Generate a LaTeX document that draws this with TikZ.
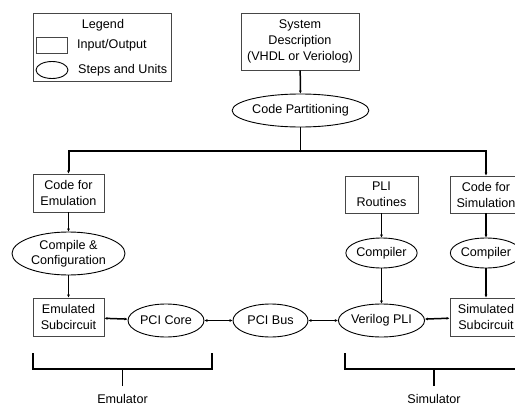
\documentclass[tikz,border=0pt]{standalone}
\usepackage{fontspec}
\setmainfont{Liberation Sans}
\usetikzlibrary{arrows.meta,shapes.geometric,calc}
\definecolor{box_grey}{RGB}{70, 70, 70}
\tikzstyle{io}=[rectangle,draw=box_grey,fill=white,line width=0.9pt,
  inner sep=0pt,align=center,font=\fontsize{12.6}{16}\selectfont]
\tikzstyle{un}=[ellipse,draw=black,fill=white,line width=0.9pt,
  inner sep=0pt,align=center,font=\fontsize{12.6}{15}\selectfont]
\tikzstyle{lbl}=[inner sep=0pt,font=\fontsize{12.6}{15}\selectfont]
\tikzstyle{flow}=[line width=1.5pt,-{Latex[length=3pt,width=3pt]}]
\tikzstyle{both}=[line width=1.5pt,{Latex[length=3pt,width=3pt]}-{Latex[length=3pt,width=3pt]}]
\tikzstyle{brace}=[line width=1.5pt]
\tikzstyle{none}=[]

\begin{document}
\begin{tikzpicture}[x=1pt, y=-1pt]
            \useasboundingbox (0, 0) rectangle (515, 407);
            % legend
            \node [style=io, minimum width=138pt, minimum height=68pt] (0) at (102, 47) {};
            \node [style=lbl] (1) at (103, 25) {Legend};
            \node [style=io, minimum width=31pt, minimum height=16pt] (2) at (51.5, 45) {};
            \node [style=lbl, anchor=west] (3) at (77, 45) {Input/Output};
            \node [style=un, minimum width=32pt, minimum height=17pt] (4) at (52, 70) {};
            \node [style=lbl, anchor=west] (5) at (78, 70) {Steps and Units};
            % top of the flow
            \node [style=io, minimum width=118pt, minimum height=57pt] (6) at (300, 41.5) {System\\Description\\(VHDL or Veriolog)};
            \node [style=un, minimum width=113pt, minimum height=33pt] (7) at (300.5, 110.5) {Code Partitioning};
            \coordinate (8) at (300.5, 151);
            % emulator side
            \node [style=io, minimum width=71pt, minimum height=38pt] (9) at (68.5, 193) {Code for\\Emulation};
            \node [style=un, minimum width=113pt, minimum height=43pt] (10) at (68.5, 253.5) {Compile \&\\Configuration};
            \node [style=io, minimum width=71pt, minimum height=38pt] (11) at (68.5, 317) {Emulated\\Subcircuit};
            \node [style=un, minimum width=76pt, minimum height=33pt] (12) at (166, 320.5) {PCI Core};
            \node [style=un, minimum width=75pt, minimum height=33pt] (13) at (270.5, 320.5) {PCI Bus};
            % simulator side
            \node [style=io, minimum width=73pt, minimum height=37pt] (14) at (381.5, 194.5) {PLI\\Routines};
            \node [style=io, minimum width=72pt, minimum height=37pt] (15) at (486, 194.5) {Code for\\Simulation};
            \node [style=un, minimum width=71pt, minimum height=30pt] (16) at (381.5, 253) {Compiler};
            \node [style=un, minimum width=71pt, minimum height=30pt] (17) at (486, 253) {Compiler};
            \node [style=un, minimum width=77pt, minimum height=33pt] (18) at (381.5, 320.5) {Verilog PLI};
            \node [style=io, minimum width=72pt, minimum height=38pt] (19) at (486, 317) {Simulated\\Subcircuit};
            % brackets
            \coordinate (20) at (33, 353);
            \coordinate (21) at (212, 353);
            \coordinate (22) at (122.5, 386);
            \node [style=lbl] (23) at (122.5, 399) {Emulator};
            \coordinate (24) at (345, 353);
            \coordinate (25) at (523, 353);
            \coordinate (26) at (434, 386);
            \node [style=lbl] (27) at (434, 399) {Simulator};

            \draw [style=flow] (6) to (7);
            \draw [line width=1.5pt] (7) to (8);
            \draw [style=flow, line width=2pt] (8) -| (9);
            \draw [style=flow, line width=2pt] (8) -| (15);
            \draw [style=flow] (9) to (10);
            \draw [style=flow] (10) to (11);
            \draw [style=flow] (14) to (16);
            \draw [style=flow] (16) to (18);
            \draw [style=flow] (15) to (17);
            \draw [style=flow] (17) to (19);
            \draw [style=both] (11) to (12);
            \draw [style=both] (12) to (13);
            \draw [style=both] (13) to (18);
            \draw [style=both] (18) to (19);
            \draw [style=brace] (20) -- ($(20)+(0,16)$) -- ($(21)+(0,16)$) -- (21);
            \draw [style=brace] (22) -- (22 |- 0,369);
            \draw [style=brace] (24) -- ($(24)+(0,16)$) -- ($(25)+(0,16)$) -- (25);
            \draw [style=brace] (26) -- (26 |- 0,369);
    \end{tikzpicture}
\end{document}
